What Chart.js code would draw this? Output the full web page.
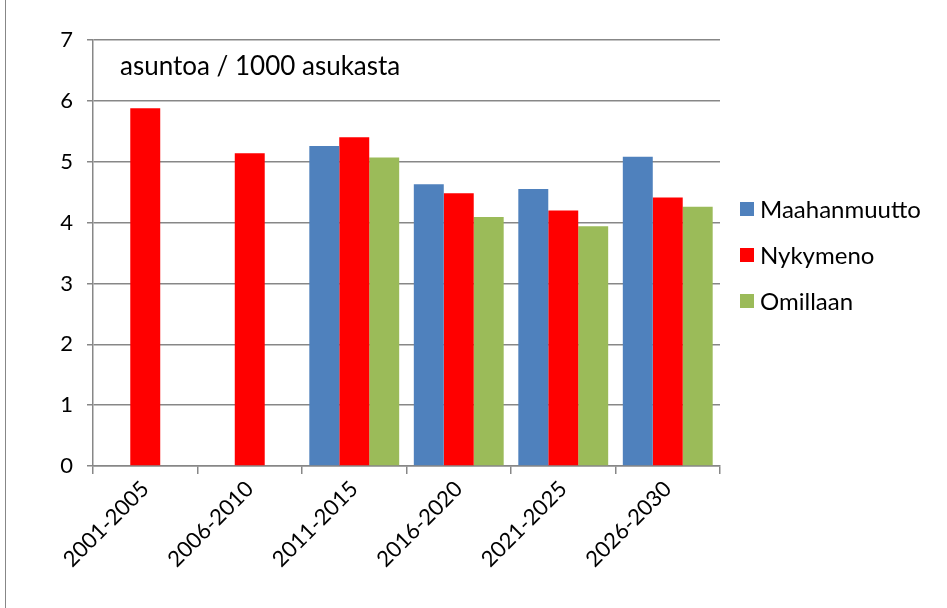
<!DOCTYPE html>
<html>
<head>
<meta charset="utf-8">
<script src="https://cdn.jsdelivr.net/npm/chart.js@4"></script>
<style>
  html, body { margin: 0; padding: 0; background: #fff; }
  #wrap { width: 947px; height: 608px; }
</style>
</head>
<body>
<div id="wrap"><canvas id="kuva" width="947" height="608"></canvas></div>
<script>
const jaksot = ['2001-2005', '2006-2010', '2011-2015', '2016-2020', '2021-2025', '2026-2030'];
const maahanmuutto = [null, null, 5.26, 4.63, 4.55, 5.08];
const nykymeno = [5.88, 5.14, 5.40, 4.48, 4.20, 4.41];
const omillaan = [null, null, 5.07, 4.09, 3.94, 4.26];
const yksikko = 'asuntoa / 1000 asukasta';

const fontti = 'Lato, "Liberation Sans", sans-serif';
const harmaa = '#878787';

// piirtää kehyksen, yksikön ja selitteen
const lisat = {
  id: 'lisat',
  beforeDraw(chart) {
    const ctx = chart.ctx;
    ctx.save();
    ctx.strokeStyle = harmaa;
    ctx.lineWidth = 1;
    ctx.beginPath();
    ctx.moveTo(5.5, 0);
    ctx.lineTo(5.5, 608);
    ctx.stroke();
    ctx.restore();
  },
  afterDraw(chart) {
    const ctx = chart.ctx;
    const a = chart.chartArea;
    ctx.save();
    ctx.fillStyle = '#000';
    ctx.font = '26px ' + fontti;
    ctx.textBaseline = 'middle';
    ctx.textAlign = 'left';
    ctx.fillText(yksikko, a.left + 27, a.top + 27);

    ctx.font = '24px ' + fontti;
    chart.data.datasets.forEach((ds, i) => {
      const y = 209 + i * 46;
      ctx.fillStyle = ds.backgroundColor;
      ctx.fillRect(740, y - 7, 14, 14);
      ctx.fillStyle = '#000';
      ctx.fillText(ds.label, 760, y + 1);
    });
    ctx.restore();
  }
};

new Chart(document.getElementById('kuva').getContext('2d'), {
  type: 'bar',
  data: {
    labels: jaksot,
    datasets: [
      { label: 'Maahanmuutto', data: maahanmuutto, backgroundColor: '#4F81BD' },
      { label: 'Nykymeno', data: nykymeno, backgroundColor: '#FF0000' },
      { label: 'Omillaan', data: omillaan, backgroundColor: '#9BBB59' }
    ]
  },
  options: {
    responsive: false,
    animation: false,
    layout: { padding: { left: 10, right: 227, top: 40, bottom: 0 } },
    datasets: { bar: { categoryPercentage: 0.86, barPercentage: 1 } },
    plugins: {
      legend: { display: false },
      tooltip: { enabled: false }
    },
    scales: {
      x: {
        afterFit(s) { s.height = 608 - 466; },
        grid: { display: true, drawOnChartArea: false, drawTicks: true, tickLength: 8, color: harmaa, lineWidth: 1.5 },
        border: { display: true, color: harmaa, width: 1.5 },
        ticks: {
          color: '#000',
          font: { family: fontti, size: 22 },
          minRotation: 45,
          maxRotation: 45,
          padding: 2
        }
      },
      y: {
        min: 0,
        max: 7,
        afterFit(s) { s.width = 83; },
        grid: { color: harmaa, lineWidth: 1.5, tickLength: 6 },
        border: { display: true, color: harmaa, width: 1.5 },
        ticks: {
          stepSize: 1,
          color: '#000',
          font: { family: fontti, size: 22 },
          padding: 14
        }
      }
    }
  },
  plugins: [lisat]
});
</script>
</body>
</html>
